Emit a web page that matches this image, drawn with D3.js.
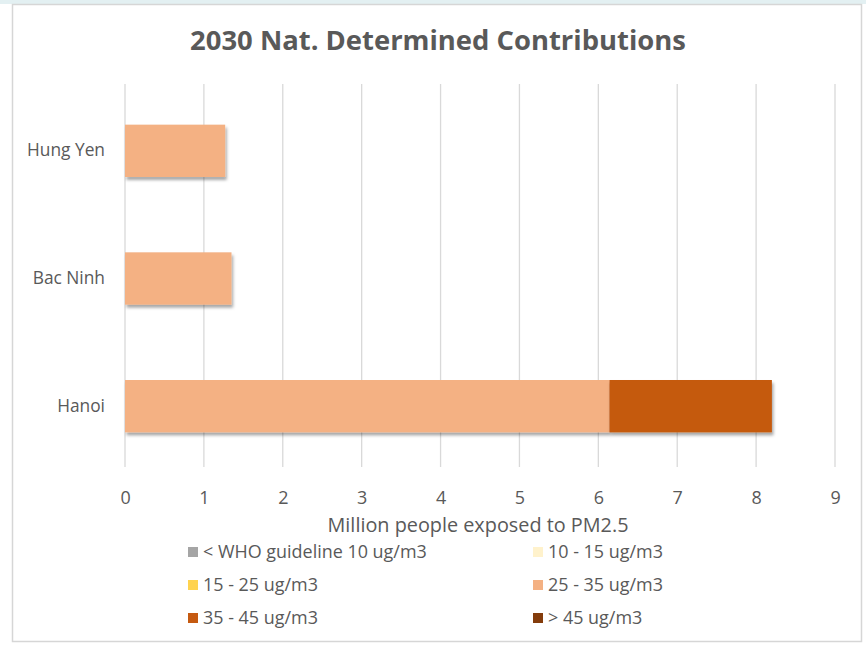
<!DOCTYPE html>
<html>
<head>
<meta charset="utf-8">
<script src="https://cdn.jsdelivr.net/npm/d3@7"></script>
<style>
  html, body { margin: 0; padding: 0; background: #ffffff; }
  svg { display: block; }
  text { font-family: "Open Sans", "Noto Sans", sans-serif; fill: #595959; }
</style>
</head>
<body>
<svg id="chart" width="866" height="645"></svg>
<script>
// Provinces (top to bottom) and exposure bands
const provinces = ["Hung Yen", "Bac Ninh", "Hanoi"];
const bands = ["< WHO guideline 10 ug/m3", "10 - 15 ug/m3", "15 - 25 ug/m3",
               "25 - 35 ug/m3", "35 - 45 ug/m3", "> 45 ug/m3"];
const bandColors = ["#a5a5a5", "#fff2cc", "#ffd34f", "#f4b183", "#c55a11", "#843c0c"];

// Million people exposed, per band, in province order
const whoGuideline = [0, 0, 0];
const pm10to15   = [0, 0, 0];
const pm15to25   = [0, 0, 0];
const pm25to35   = [1.27, 1.35, 6.14];
const pm35to45   = [0, 0, 2.06];
const pmOver45   = [0, 0, 0];

const xTicks = [0, 1, 2, 3, 4, 5, 6, 7, 8, 9];
const chartTitle = "2030 Nat. Determined Contributions";
const xTitle = "Million people exposed to PM2.5";

const series = [whoGuideline, pm10to15, pm15to25, pm25to35, pm35to45, pmOver45];
const rows = provinces.map((p, i) => {
  const r = { province: p };
  bands.forEach((b, j) => { r[b] = series[j][i]; });
  return r;
});
const stacked = d3.stack().keys(bands)(rows);

const svg = d3.select("#chart");

// Page frame and chart box
svg.append("rect").attr("x", 0).attr("y", 0).attr("width", 866).attr("height", 4).attr("fill", "#e3f0f2");
svg.append("rect").attr("x", 12.5).attr("y", 4.5).attr("width", 849).attr("height", 637)
  .attr("fill", "#ffffff").attr("stroke", "#d6d6d6").attr("stroke-width", 1.5);

const defs = svg.append("defs");
const f = defs.append("filter").attr("id", "shadow").attr("x", "-5%").attr("y", "-20%").attr("width", "115%").attr("height", "150%");
f.append("feDropShadow").attr("dx", 1.5).attr("dy", 3).attr("stdDeviation", 1.5)
  .attr("flood-color", "#000").attr("flood-opacity", 0.35);

// Measure helper: font size that makes a string span a given width
function fitSize(str, weight, target) {
  const t = svg.append("text").attr("font-size", 20).attr("font-weight", weight).text(str);
  const w = t.node().getComputedTextLength();
  t.remove();
  return 20 * target / w;
}

const plot = { left: 125, right: 835, top: 84, bottom: 467 };
const x = d3.scaleLinear().domain([0, 9]).range([plot.left, plot.right]);
const y = d3.scaleBand().domain(provinces).range([plot.top + 3, plot.bottom + 3])
  .paddingInner(0.59).paddingOuter(0.295);

// Title
const titleSize = fitSize(chartTitle, 700, 496);
svg.append("text").attr("x", 438).attr("y", 50).attr("text-anchor", "middle")
  .attr("font-size", titleSize).attr("font-weight", 700).text(chartTitle);

// Vertical gridlines
svg.append("g").selectAll("line").data(xTicks).join("line")
  .attr("x1", d => x(d)).attr("x2", d => x(d))
  .attr("y1", plot.top).attr("y2", plot.bottom)
  .attr("stroke", "#d9d9d9").attr("stroke-width", 1.3);

// Stacked bars
svg.append("g").selectAll("g").data(stacked).join("g")
  .attr("fill", (d, i) => bandColors[i])
  .selectAll("rect").data(d => d.filter(s => s[1] - s[0] > 0)).join("rect")
  .attr("x", d => x(d[0])).attr("width", d => x(d[1]) - x(d[0]))
  .attr("y", d => y(d.data.province)).attr("height", y.bandwidth())
  .attr("filter", "url(#shadow)");

const labelSize = fitSize("Hung Yen", 400, 78);
const tickSize = fitSize("10 - 15 ug/m3", 400, 115);

// X axis tick labels
const xAxis = d3.axisBottom(x).tickValues(xTicks).tickSize(0).tickPadding(0);
const gx = svg.append("g").attr("transform", `translate(0, ${plot.bottom + 24})`).call(xAxis);
gx.select(".domain").remove();
gx.selectAll("text").attr("font-size", tickSize).attr("font-family", null).attr("fill", "#595959");

// Category labels
const yAxis = d3.axisLeft(y).tickSize(0).tickPadding(0);
const gy = svg.append("g").attr("transform", `translate(${plot.left - 20}, 0)`).call(yAxis);
gy.select(".domain").remove();
gy.selectAll("text").attr("font-size", labelSize).attr("font-family", null).attr("fill", "#595959");

// Axis title
const xTitleSize = fitSize(xTitle, 400, 301);
svg.append("text").attr("x", 478).attr("y", 532).attr("text-anchor", "middle")
  .attr("font-size", xTitleSize).text(xTitle);

// Legend, two columns
const legendCols = [188, 533];
const legendRows = [552, 585, 618];
const lg = svg.append("g").selectAll("g").data(bands).join("g")
  .attr("transform", (d, i) => `translate(${legendCols[i % 2]}, ${legendRows[Math.floor(i / 2)]})`);
lg.append("rect").attr("x", 0).attr("y", -5).attr("width", 10).attr("height", 10)
  .attr("fill", (d, i) => bandColors[i]);
lg.append("text").attr("x", 15).attr("y", 0).attr("dy", "0.36em")
  .attr("font-size", tickSize).text(d => d);
</script>
</body>
</html>
